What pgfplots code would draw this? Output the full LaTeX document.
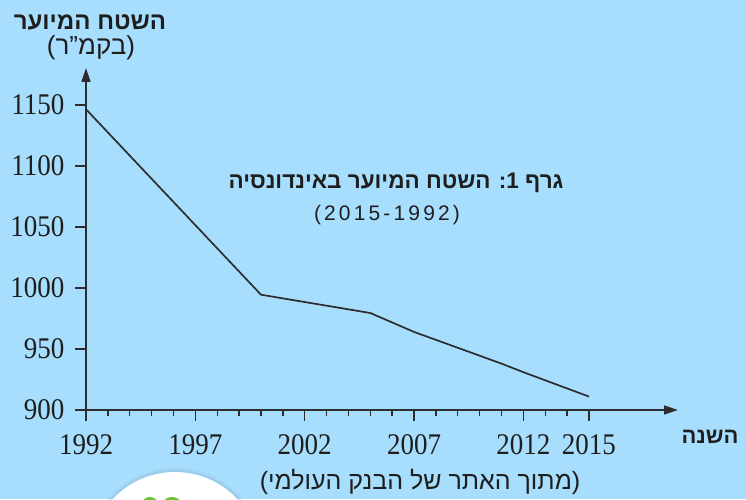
\documentclass[border=0pt]{standalone}
\usepackage{fontspec}
\usepackage{pgfplots}
\pgfplotsset{compat=1.18}
\usetikzlibrary{arrows.meta}
\setmainfont{Liberation Serif}
\newfontfamily\numfont[FakeStretch=0.9]{Liberation Serif}
\newfontfamily\hebfont[Script=Hebrew]{Liberation Sans}
\newfontfamily\sansfont[LetterSpace=15]{Liberation Sans}
\TeXXeTstate=1
\definecolor{bgblue}{RGB}{167,222,253}
\definecolor{linegray}{RGB}{45,45,45}
\definecolor{txt}{RGB}{30,30,30}
\begin{document}
\begin{tikzpicture}[x=1pt,y=1pt]
\useasboundingbox (0,0) rectangle (746,499);
\fill[bgblue] (0,0) rectangle (746,499);
\begin{scope}
\clip (0,0) rectangle (746,499);
\fill[black, opacity=0.04] (175,-58) circle (89);
\fill[black, opacity=0.04] (175,-58) circle (87);
\fill[white] (175,-58) circle (85);
\fill[green!45!olive!80] (150,-3) ellipse (7 and 5);
\fill[green!45!olive!80] (172,-3) ellipse (8 and 5);
\end{scope}
\begin{axis}[
  at={(86pt,89pt)}, anchor=south west,
  scale only axis, width=592pt, height=342pt,
  xmin=1992, xmax=2019.07, ymin=900, ymax=1180.3,
  axis lines=left,
  axis line style={linegray, line width=1.6pt},
  x axis line style={-{Triangle[length=14pt,width=9pt]}},
  y axis line style={-{Triangle[length=14pt,width=9pt]}},
  xtick={1992,1997,2002,2007,2012,2015},
  minor xtick={1993,...,2014},
  ytick={900,950,...,1150},
  tick align=outside, major tick length=11pt, minor tick length=6pt,
  every tick/.style={linegray, line width=1.4pt},
  ticklabel style={font=\numfont\fontsize{30}{32}\selectfont, text=txt},
  xticklabel style={yshift=-10pt},
  yticklabel style={xshift=-7pt},
  /pgf/number format/assume math mode=true,
  /pgf/number format/1000 sep={},
  clip=false,
]
\addplot[linegray, line width=1.7pt] coordinates {
  (1992,1146.5) (2000,994.5) (2005,979.5) (2007,964) (2011,938) (2012,931) (2015,911)
};
\end{axis}
\node[text=txt, font=\hebfont\bfseries\fontsize{24}{26}\selectfont] at (90,477) {\beginR השטח המיוער\endR};
\node[text=txt, font=\hebfont\fontsize{26}{28}\selectfont] at (91,451) {\beginR(בקמ”ר)\endR};
\node[text=txt, font=\hebfont\bfseries\fontsize{22.5}{26}\selectfont] at (396,316) {\beginR גרף 1: השטח המיוער באינדונסיה\endR};
\node[text=txt, font=\sansfont\fontsize{21}{24}\selectfont] at (387,284) {(2015-1992)};
\node[text=txt, font=\hebfont\bfseries\fontsize{22}{24}\selectfont] at (710,62) {\beginR השנה\endR};
\node[text=txt, font=\hebfont\fontsize{25}{26}\selectfont] at (420,17) {\beginR(מתוך האתר של הבנק העולמי)\endR};
\end{tikzpicture}
\end{document}
